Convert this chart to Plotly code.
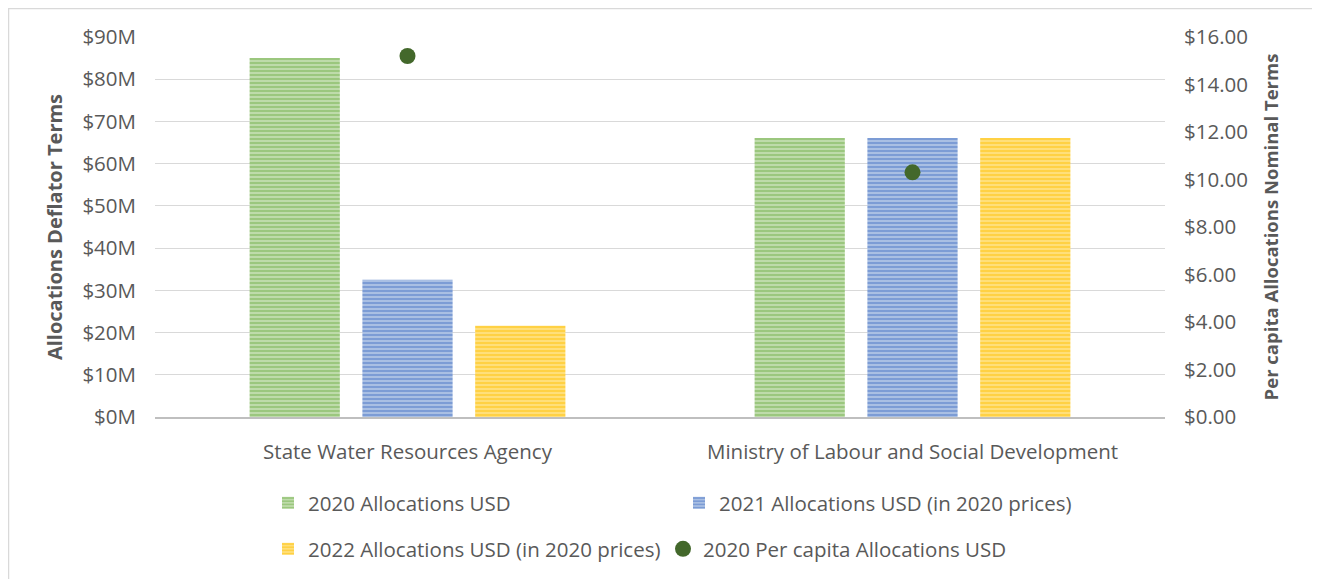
import plotly.graph_objects as go

categories = ["State Water Resources Agency", "Ministry of Labour and Social Development"]
alloc_2020 = [85.0, 66.1]
alloc_2021 = [32.5, 66.1]
alloc_2022 = [21.6, 66.1]
per_capita_2020 = [15.2, 10.3]
left_ticks = [0, 10, 20, 30, 40, 50, 60, 70, 80, 90]
right_ticks = [0, 2, 4, 6, 8, 10, 12, 14, 16]

OFF = 8  # browser body margin
W, H = 1320 - OFF, 579 - OFF
L, T = 155 - OFF, 37 - OFF
pw, ph = 1010, 381
R = W - L - pw
B = H - T - ph

def px(x):  # page x -> paper
    return (x - OFF - L) / pw

def py(y):  # page y -> paper
    return (T + ph - (y - OFF)) / ph

FONT = "Open Sans"
GREY = "#595959"
FS = 20.5

fig = go.Figure()

def bar(name, vals, fg, bg, legend):
    fig.add_trace(go.Bar(
        x=categories, y=vals, name=name, legend=legend,
        marker=dict(color=bg, line=dict(width=0),
                    pattern=dict(shape="-", fgcolor=fg, bgcolor=bg, size=4, solidity=0.6)),
    ))

bar("2020 Allocations USD", alloc_2020, "#70ad47", "#c6e0b4", "legend")
bar("2021 Allocations USD (in 2020 prices)", alloc_2021, "#4472c4", "#b4c7e7", "legend")
bar("2022 Allocations USD (in 2020 prices)", alloc_2022, "#ffc000", "#ffe288", "legend2")
fig.add_trace(go.Scatter(
    x=categories, y=per_capita_2020, name="2020 Per capita Allocations USD",
    mode="markers", yaxis="y2", legend="legend2",
    marker=dict(color="#43682b", size=16),
))

fig.update_layout(
    width=W, height=H,
    margin=dict(l=L, r=R, t=T, b=B),
    paper_bgcolor="white", plot_bgcolor="white",
    font=dict(family=FONT, size=FS, color=GREY),
    barmode="group", bargap=0.33, bargroupgap=0.2,
    xaxis=dict(showgrid=False, showline=True, linecolor="#bfbfbf", linewidth=2,
               ticks="", tickfont=dict(size=FS, color=GREY), ticklabelstandoff=15),
    yaxis=dict(range=[0, 90], tickvals=left_ticks, ticktext=[f"${v}M" for v in left_ticks],
               showgrid=True, gridcolor="#d9d9d9", gridwidth=1, zeroline=False,
               tickfont=dict(size=FS, color=GREY), ticklabelstandoff=18,
               title=dict(text="<b>Allocations Deflator Terms</b>", font=dict(size=20, color=GREY), standoff=14)),
    yaxis2=dict(range=[0, 16], overlaying="y", side="right", tickvals=right_ticks,
                ticktext=[f"${v:.2f}" for v in right_ticks], showgrid=False, zeroline=False,
                tickfont=dict(size=FS, color=GREY), ticklabelstandoff=18,
                title=dict(text="<b>Per capita Allocations Nominal Terms</b>", font=dict(size=18.5, color=GREY), standoff=18)),
    legend=dict(orientation="h", x=px(268), y=py(503), xanchor="left", yanchor="middle",
                entrywidth=366, entrywidthmode="pixels", font=dict(size=FS, color=GREY),
                itemwidth=30, traceorder="normal"),
    legend2=dict(orientation="h", x=px(268), y=py(549), xanchor="left", yanchor="middle",
                 entrywidth=350, entrywidthmode="pixels", font=dict(size=FS, color=GREY),
                 itemwidth=30, traceorder="normal"),
    showlegend=True,
)

fig.add_shape(type="rect", xref="paper", yref="paper",
              x0=px(OFF + 0.5), x1=px(1400), y0=py(700), y1=py(OFF + 0.5),
              line=dict(color="#d9d9d9", width=1.5), fillcolor="rgba(0,0,0,0)", layer="below")

fig.write_html("out.html")
